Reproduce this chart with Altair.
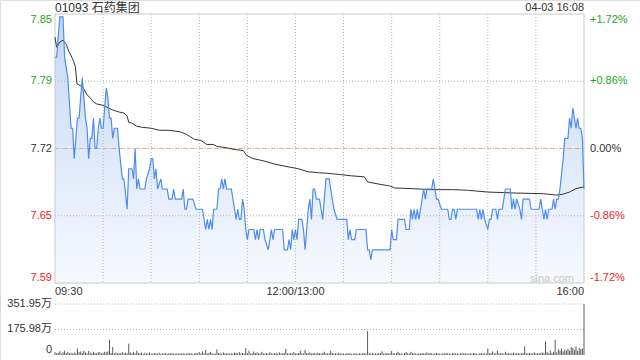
import altair as alt
import pandas as pd

title_text = "01093 石药集团"
stamp_text = "04-03 16:08"
watermark_text = "sina.com"
prev_close = 7.72
price_domain = [7.5872, 7.8528]
vol_domain = [0, 351.95]
minute_domain = [0, 330]

price_minutes = [0, 1, 3, 5, 6, 8, 10, 11, 12, 14, 15, 17, 19, 20, 21, 22, 23, 24, 25, 26,
                 27, 28, 29, 30, 32, 33, 34, 35, 36, 37, 39, 40, 42, 43, 45, 46, 48, 49, 50, 51,
                 52, 53, 56, 57, 59, 60, 61, 62, 63, 64, 66, 67, 70, 71, 73, 74, 75, 79, 80, 81,
                 82, 83, 86, 88, 92, 94, 95, 96, 97, 98, 99, 101, 102, 103, 104, 105, 106, 107, 110, 112,
                 113, 114, 115, 116, 117, 118, 119, 120, 121, 124, 125, 126, 127, 128, 130, 131, 133, 134, 135, 136,
                 137, 142, 143, 145, 146, 147, 148, 149, 150, 151, 152, 154, 155, 156, 158, 159, 160, 161, 162, 163,
                 165, 166, 167, 169, 171, 173, 174, 176, 182, 183, 184, 185, 187, 188, 194, 195, 196, 197, 198, 209,
                 210, 211, 213, 214, 218, 219, 221, 222, 223, 224, 225, 226, 227, 228, 229, 230, 231, 232, 235, 236,
                 237, 238, 239, 241, 245, 246, 247, 248, 249, 250, 251, 263, 264, 265, 266, 267, 268, 270, 271, 272,
                 273, 275, 276, 277, 279, 280, 281, 284, 285, 286, 287, 288, 290, 291, 292, 296, 297, 302, 303, 304,
                 305, 306, 307, 308, 310, 311, 312, 313, 314, 315, 317, 318, 320, 321, 322, 323, 324, 325, 326, 327,
                 328, 329, 330]
price_values = [7.81, 7.81, 7.85, 7.85, 7.81, 7.79, 7.74, 7.74, 7.71, 7.75, 7.75, 7.79, 7.75, 7.74, 7.71, 7.73, 7.73, 7.75, 7.72, 7.72,
                7.74, 7.75, 7.74, 7.74, 7.78, 7.77, 7.75, 7.75, 7.73, 7.74, 7.74, 7.72, 7.69, 7.69, 7.66, 7.70, 7.70, 7.69, 7.72, 7.68,
                7.69, 7.68, 7.68, 7.69, 7.70, 7.71, 7.71, 7.69, 7.70, 7.68, 7.69, 7.68, 7.68, 7.67, 7.67, 7.68, 7.67, 7.67, 7.68, 7.66,
                7.66, 7.67, 7.67, 7.66, 7.66, 7.64, 7.65, 7.64, 7.65, 7.64, 7.66, 7.66, 7.68, 7.68, 7.69, 7.68, 7.69, 7.68, 7.68, 7.66,
                7.65, 7.66, 7.65, 7.65, 7.67, 7.66, 7.64, 7.63, 7.64, 7.64, 7.63, 7.64, 7.63, 7.64, 7.64, 7.63, 7.62, 7.63, 7.64, 7.63,
                7.64, 7.64, 7.62, 7.62, 7.63, 7.62, 7.64, 7.63, 7.64, 7.63, 7.65, 7.65, 7.64, 7.62, 7.66, 7.67, 7.65, 7.68, 7.68, 7.67,
                7.67, 7.66, 7.65, 7.69, 7.69, 7.67, 7.66, 7.65, 7.65, 7.63, 7.64, 7.63, 7.63, 7.64, 7.64, 7.62, 7.62, 7.61, 7.62, 7.62,
                7.64, 7.63, 7.63, 7.65, 7.65, 7.64, 7.64, 7.66, 7.65, 7.66, 7.65, 7.66, 7.65, 7.66, 7.67, 7.68, 7.67, 7.68, 7.68, 7.69,
                7.68, 7.67, 7.67, 7.66, 7.66, 7.65, 7.65, 7.66, 7.66, 7.65, 7.66, 7.66, 7.65, 7.66, 7.65, 7.66, 7.65, 7.64, 7.65, 7.65,
                7.66, 7.66, 7.65, 7.66, 7.66, 7.67, 7.68, 7.68, 7.66, 7.67, 7.66, 7.67, 7.66, 7.65, 7.67, 7.67, 7.66, 7.66, 7.67, 7.66,
                7.65, 7.66, 7.65, 7.66, 7.66, 7.67, 7.66, 7.67, 7.67, 7.68, 7.71, 7.73, 7.73, 7.75, 7.74, 7.76, 7.75, 7.74, 7.75, 7.74,
                7.74, 7.73, 7.68]

avg_minutes = [0, 1, 3, 5, 7, 8.5, 10, 11.6, 12.7, 13.7, 15.8, 17.9, 20, 22, 24, 26, 29, 32, 36, 40,
               43, 45, 46, 48, 51, 54, 60, 65, 71, 78, 82, 84, 87, 91, 94.6, 98.8, 101, 106, 112, 117.5,
               119.6, 123.7, 131, 136, 143.5, 151.8, 158, 165, 170, 176.6, 185, 193, 195, 201.5, 208.8, 212, 222, 235, 248, 258,
               270, 288, 304.6, 313, 317, 321, 325, 330]
avg_values = [7.830, 7.820, 7.825, 7.827, 7.823, 7.816, 7.812, 7.806, 7.801, 7.784, 7.782, 7.779, 7.773, 7.770, 7.766, 7.764, 7.763, 7.761, 7.758, 7.756,
              7.755, 7.752, 7.746, 7.745, 7.742, 7.741, 7.740, 7.738, 7.738, 7.7365, 7.734, 7.732, 7.729, 7.728, 7.724, 7.724, 7.722, 7.721, 7.719, 7.718,
              7.713, 7.710, 7.7075, 7.705, 7.7025, 7.700, 7.697, 7.696, 7.6955, 7.6945, 7.693, 7.692, 7.687, 7.685, 7.683, 7.681, 7.6804, 7.6794, 7.6794, 7.6787,
              7.677, 7.676, 7.6754, 7.674, 7.675, 7.677, 7.6804, 7.682]

vol_values = [20, 12, 15, 25, 10, 18, 30, 14, 22, 12,
              15, 10, 18, 12, 45, 20, 25, 14, 30, 18,
              12, 28, 16, 10, 22, 14, 12, 20, 18, 10,
              15, 22, 18, 25, 105, 14, 55, 12, 18, 10,
              14, 12, 20, 10, 16, 12, 78, 18, 12, 22,
              10, 30, 14, 12, 18, 8, 15, 10, 12, 18,
              10, 8, 14, 12, 10, 16, 8, 12, 10, 14,
              8, 12, 10, 14, 8, 10, 12, 8, 14, 10,
              12, 10, 8, 14, 10, 12, 8, 10, 14, 12,
              20, 10, 25, 12, 35, 10, 14, 22, 12, 8,
              10, 38, 14, 12, 10, 18, 12, 10, 14, 8,
              12, 10, 16, 14, 12, 20, 10, 14, 12, 48,
              14, 30, 10, 12, 25, 14, 18, 12, 10, 22,
              12, 10, 14, 8, 20, 12, 10, 14, 12, 10,
              18, 12, 10, 14, 42, 12, 10, 14, 12, 20,
              10, 12, 14, 30, 12, 10, 35, 14, 12, 18,
              10, 14, 12, 10, 16, 12, 10, 14, 22, 12,
              10, 12, 30, 14, 10, 12, 8, 14, 10, 12,
              10, 8, 12, 10, 14, 8, 10, 12, 10, 8,
              12, 10, 14, 12, 10, 165, 12, 10, 14, 8,
              12, 10, 14, 12, 25, 10, 12, 14, 10, 12,
              28, 12, 10, 14, 22, 12, 10, 8, 14, 20,
              12, 10, 22, 14, 12, 10, 8, 12, 10, 14,
              10, 12, 18, 10, 14, 12, 8, 10, 14, 12,
              10, 8, 12, 10, 14, 12, 10, 8, 12, 10,
              14, 10, 8, 12, 10, 14, 12, 10, 8, 12,
              10, 14, 12, 10, 8, 12, 14, 10, 12, 10,
              45, 14, 12, 25, 10, 12, 30, 10, 14, 12,
              10, 22, 12, 14, 10, 12, 16, 10, 12, 14,
              10, 12, 14, 60, 12, 10, 14, 12, 10, 18,
              12, 10, 14, 12, 18, 14, 95, 20, 12, 30,
              14, 22, 105, 18, 40, 30, 45, 25, 38, 30,
              42, 30, 55, 48, 35, 60, 28, 50, 40, 45,
              351.95]

price_ticks = [7.8528, 7.7864, 7.72, 7.6536, 7.5872]
price_tick_labels = ["7.85", "7.79", "7.72", "7.65", "7.59"]
pct_tick_labels = ["+1.72%", "+0.86%", "0.00%", "-0.86%", "-1.72%"]
time_ticks = [0, 150, 330]
time_tick_labels = ["09:30", "12:00/13:00", "16:00"]
grid_minutes = [30, 60, 90, 120, 150, 180, 210, 240, 270, 300]
vol_ticks = [351.95, 175.98, 0]
vol_tick_labels = ["351.95万", "175.98万", "0"]

FONT = "Liberation Sans, Arial, Noto Sans CJK SC, sans-serif"
GRID = "#b4b4b4"
xs = alt.Scale(domain=minute_domain, range=[55, 584], nice=False, zero=False)
ps = alt.Scale(domain=price_domain, range=[283, 14], nice=False, zero=False)
vs = alt.Scale(domain=vol_domain, range=[355, 304], nice=False, zero=False)
cs = alt.Scale(domain=["up", "flat", "down"], range=["#1aa81a", "#333333", "#f01c1c"])

price_df = pd.DataFrame({"m": price_minutes, "p": price_values, "lo": price_domain[0]})
avg_df = pd.DataFrame({"m": avg_minutes, "p": avg_values})
vol_df = pd.DataFrame({"m": list(range(len(vol_values))), "v": vol_values, "z": 0})
vgrid_df = pd.DataFrame({"m": grid_minutes, "lo": price_domain[0], "hi": price_domain[1]})
hgrid_df = pd.DataFrame({"p": price_ticks[1:4], "a": minute_domain[0], "b": minute_domain[1]})
box_df = pd.DataFrame({"a": [minute_domain[0]], "b": [minute_domain[1]],
                       "lo": [price_domain[0]], "hi": [price_domain[1]]})
prev_df = pd.DataFrame({"p": [prev_close], "a": [minute_domain[0]], "b": [minute_domain[1]]})
vgridh_df = pd.DataFrame({"v": vol_ticks[:2], "a": minute_domain[0], "b": minute_domain[1]})
plab_df = pd.DataFrame({"p": price_ticks, "label": price_tick_labels, "pct": pct_tick_labels})
tlab_df = pd.DataFrame({"m": time_ticks, "label": time_tick_labels})
vlab_df = pd.DataFrame({"v": vol_ticks, "label": vol_tick_labels})

X = lambda f: alt.X(f, scale=xs, axis=None)
YP = lambda f: alt.Y(f, scale=ps, axis=None)
YV = lambda f: alt.Y(f, scale=vs, axis=None)

grad = alt.Gradient(gradient="linear",
                    stops=[alt.GradientStop(color="#c4d8f7", offset=0),
                           alt.GradientStop(color="#f7f9fe", offset=1)],
                    x1=1, x2=1, y1=0, y2=1)

area = alt.Chart(price_df).mark_area(color=grad).encode(x=X("m:Q"), y=YP("p:Q"), y2="lo:Q")
vgrid = alt.Chart(vgrid_df).mark_rule(color=GRID, strokeDash=[1, 2], strokeWidth=1).encode(
    x=X("m:Q"), y=YP("hi:Q"), y2="lo:Q")
hgrid = alt.Chart(hgrid_df).mark_rule(color=GRID, strokeDash=[1, 2], strokeWidth=1).encode(
    x=X("a:Q"), x2="b:Q", y=YP("p:Q"))
prevline = alt.Chart(prev_df).mark_rule(color="#f3a878", strokeDash=[4, 4], strokeWidth=1).encode(
    x=X("a:Q"), x2="b:Q", y=YP("p:Q"))
box = alt.Chart(box_df).mark_rect(fillOpacity=0, stroke="#c8c8c8", strokeWidth=1).encode(
    x=X("a:Q"), x2="b:Q", y=YP("hi:Q"), y2="lo:Q")
pline = alt.Chart(price_df).mark_line(color="#4f8ded", strokeWidth=1.2).encode(x=X("m:Q"), y=YP("p:Q"))
aline = alt.Chart(avg_df).mark_line(color="#333333", strokeWidth=1).encode(x=X("m:Q"), y=YP("p:Q"))

vbars = alt.Chart(vol_df).mark_rule(color="#5a5a5a", strokeWidth=1).encode(x=X("m:Q"), y=YV("v:Q"), y2="z:Q")
vgridh = alt.Chart(vgridh_df).mark_rule(color=GRID, strokeDash=[1, 2], strokeWidth=1).encode(
    x=X("a:Q"), x2="b:Q", y=YV("v:Q"))

sign_expr = f"datum.p > {prev_close} + 0.0001 ? 'up' : (datum.p < {prev_close} - 0.0001 ? 'down' : 'flat')"


def price_labels(field, xpos, align, baseline, lo, hi):
    return alt.Chart(plab_df.iloc[lo:hi]).transform_calculate(sign=sign_expr).mark_text(
        align=align, baseline=baseline, font=FONT, fontSize=11).encode(
        x=alt.value(xpos), y=YP("p:Q"), text=f"{field}:N",
        color=alt.Color("sign:N", scale=cs, legend=None))


label_layers = []
for field, xpos, align in [("label", 52, "right"), ("pct", 590, "left")]:
    label_layers.append(price_labels(field, xpos, align, "top", 0, 1))
    label_layers.append(price_labels(field, xpos, align, "middle", 1, 4))
    label_layers.append(price_labels(field, xpos, align, "bottom", 4, 5))

time_layers = []
for i, align in enumerate(["left", "center", "right"]):
    time_layers.append(alt.Chart(tlab_df.iloc[i:i + 1]).mark_text(
        align=align, baseline="middle", font=FONT, fontSize=11, color="#333333").encode(
        x=X("m:Q"), y=alt.value(292), text="label:N"))

vol_labels = [
    alt.Chart(vlab_df.iloc[0:2]).mark_text(align="right", baseline="middle", font=FONT, fontSize=11,
                                           color="#333333").encode(x=alt.value(52), y=YV("v:Q"), text="label:N"),
    alt.Chart(vlab_df.iloc[2:3]).mark_text(align="right", baseline="bottom", font=FONT, fontSize=11,
                                           color="#333333").encode(x=alt.value(52), y=YV("v:Q"), text="label:N"),
]

title_df = pd.DataFrame({"t": [title_text]})
stamp_df = pd.DataFrame({"t": [stamp_text]})
wm_df = pd.DataFrame({"t": [watermark_text]})
title = alt.Chart(title_df).mark_text(align="left", baseline="middle", font=FONT, fontSize=12,
                                      color="#333333").encode(x=alt.value(55), y=alt.value(8), text="t:N")
stamp = alt.Chart(stamp_df).mark_text(align="right", baseline="middle", font=FONT, fontSize=11,
                                      color="#333333").encode(x=alt.value(584), y=alt.value(8), text="t:N")
wm = alt.Chart(wm_df).mark_text(align="right", baseline="middle", font=FONT, fontSize=11,
                                color="#c8c8c8").encode(x=alt.value(574), y=alt.value(279), text="t:N")

chart = alt.layer(
    area, vgrid, hgrid, prevline, box, aline, pline, wm,
    vgridh, vbars,
    *label_layers, *time_layers, *vol_labels, title, stamp
).resolve_scale(y="independent").properties(
    width=640, height=360, autosize=alt.AutoSizeParams(type="none"), padding=0
).configure_view(strokeWidth=0).configure(background="white")

chart.save("out.html", embed_options={"renderer": "svg", "actions": False})
